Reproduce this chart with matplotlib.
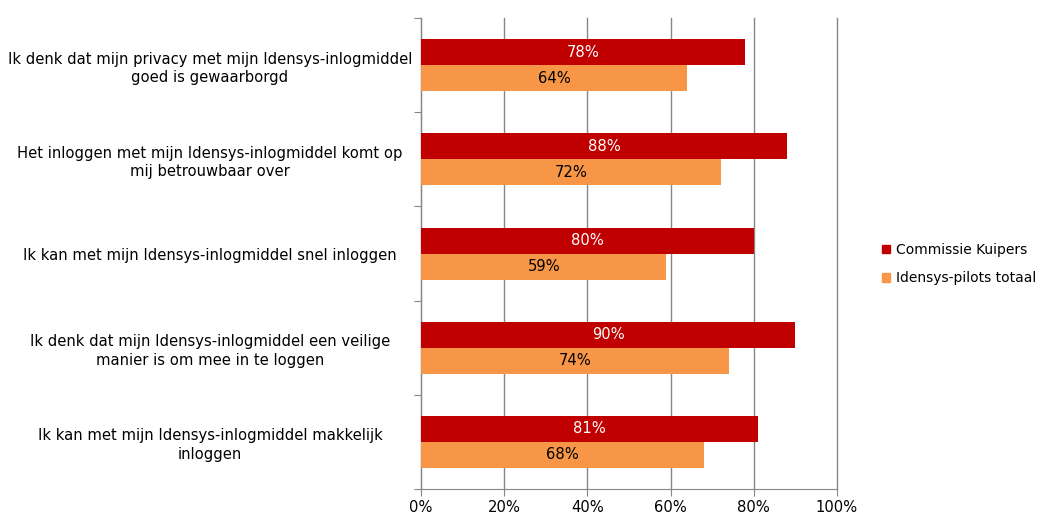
import numpy as np
import matplotlib.pyplot as plt
from matplotlib.patches import Patch

plt.rcParams['font.family'] = ['DejaVu Sans']

categories = [
    "Ik denk dat mijn privacy met mijn Idensys-inlogmiddel\ngoed is gewaarborgd",
    "Het inloggen met mijn Idensys-inlogmiddel komt op\nmij betrouwbaar over",
    "Ik kan met mijn Idensys-inlogmiddel snel inloggen",
    "Ik denk dat mijn Idensys-inlogmiddel een veilige\nmanier is om mee in te loggen",
    "Ik kan met mijn Idensys-inlogmiddel makkelijk\ninloggen",
]
kuipers = [78, 88, 80, 90, 81]
pilots = [64, 72, 59, 74, 68]
series_names = ["Commissie Kuipers", "Idensys-pilots totaal"]
red = "#C00000"
orange = "#F79646"
grey = "#868686"
fs = 10.6

fig = plt.figure(figsize=(10.46, 5.15), dpi=100)
ax = fig.add_axes([0.4025, 0.0505, 0.3977, 0.9145])

n = len(categories)
y = np.arange(n)
h = 0.276
ax.barh(y - h / 2, kuipers, height=h, color=red, zorder=3)
ax.barh(y + h / 2, pilots, height=h, color=orange, zorder=3)

for yi, v in zip(y, kuipers):
    ax.text(v / 2, yi - h / 2, f"{v}%", ha="center", va="center",
            color="white", fontsize=fs, zorder=4)
for yi, v in zip(y, pilots):
    ax.text(v / 2, yi + h / 2, f"{v}%", ha="center", va="center",
            color="black", fontsize=fs, zorder=4)

ax.set_xlim(0, 100)
ax.set_ylim(n - 0.5, -0.5)
ax.set_xticks(range(0, 101, 20))
ax.set_xticklabels([f"{t}%" for t in range(0, 101, 20)], fontsize=fs)
ax.xaxis.grid(True, color=grey, linewidth=1, zorder=0)
for gl in ax.get_xgridlines():
    gl.set_clip_on(False)

# category labels between boundary ticks
ax.set_yticks(np.arange(-0.5, n, 1))
ax.set_yticklabels([])
ax.set_yticks(y, minor=True)
ax.set_yticklabels(categories, minor=True, fontsize=fs, ha="center",
                   linespacing=1.3)
ax.tick_params(axis="y", which="minor", length=0, pad=152)
ax.tick_params(axis="y", which="major", length=5, color=grey)
ax.tick_params(axis="x", length=5, color=grey, pad=3)

for s in ["top", "right"]:
    ax.spines[s].set_visible(False)
for s in ["left", "bottom"]:
    ax.spines[s].set_color(grey)

handles = [Patch(color=red), Patch(color=orange)]
fig.legend(handles, series_names, loc="center left",
           bbox_to_anchor=(0.834, 0.487), frameon=False, fontsize=10,
           handlelength=0.6, handleheight=0.6, handletextpad=0.4,
           labelspacing=1.05, borderpad=0.2)

fig.savefig("out.png", dpi=100)
